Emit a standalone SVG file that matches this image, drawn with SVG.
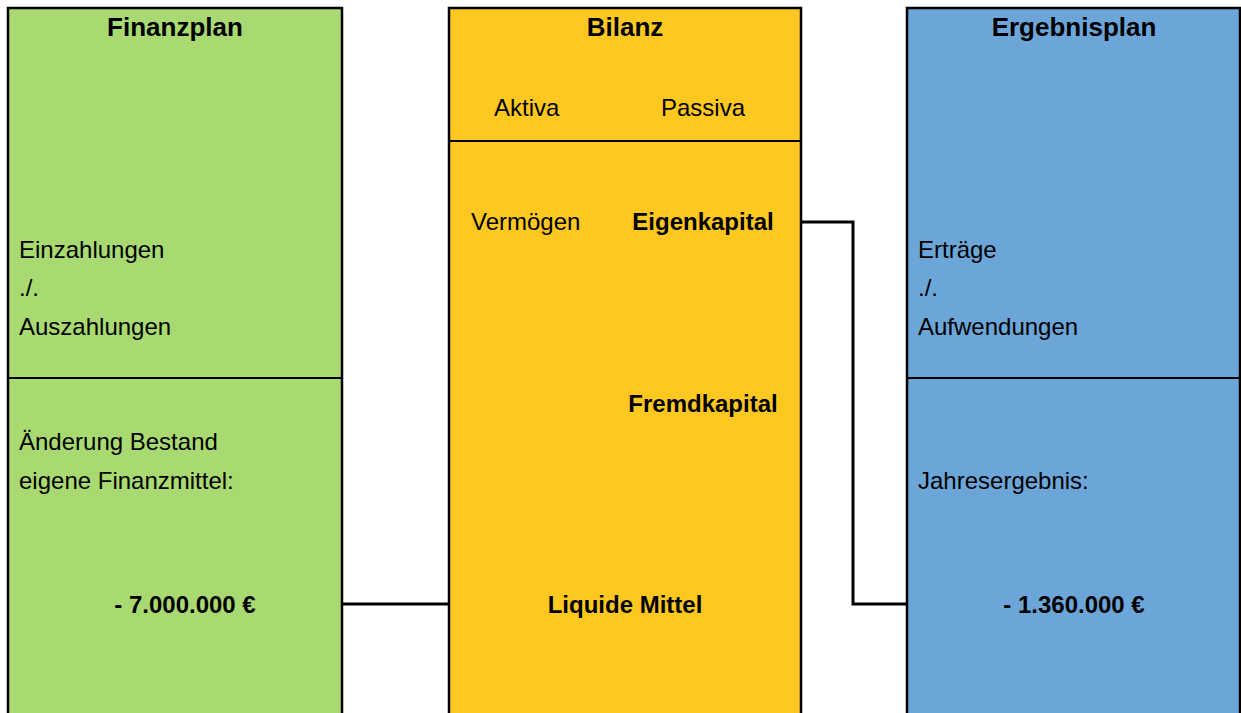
<svg xmlns="http://www.w3.org/2000/svg" width="1241" height="713" viewBox="0 0 1241 713">
<style>
.box{stroke:#000;stroke-width:2.5}
.div{stroke:#000;stroke-width:2}
.t{font-family:"Liberation Sans",Arial,sans-serif;font-size:24px;fill:#000}
.b{font-weight:bold}
.h{font-family:"Liberation Sans",Arial,sans-serif;font-size:26px;font-weight:bold;fill:#000;text-anchor:middle}
.m{text-anchor:middle}
.c{fill:none;stroke:#000;stroke-width:3}
</style>
<rect width="1241" height="713" fill="#fff"/>
<g id="finanzplan">
<rect class="box" x="8" y="8" width="334" height="720" fill="#A9DA72"/>
<line class="div" x1="8" y1="378" x2="342" y2="378"/>
<text class="h" x="175" y="36">Finanzplan</text>
<text class="t" x="19" y="258">Einzahlungen</text>
<text class="t" x="19" y="296">./.</text>
<text class="t" x="19" y="335">Auszahlungen</text>
<text class="t" x="19" y="450">Änderung Bestand</text>
<text class="t" x="19" y="489">eigene Finanzmittel:</text>
<text class="t b m" x="185" y="613">- 7.000.000 €</text>
</g>
<g id="bilanz">
<rect class="box" x="449" y="8" width="352" height="720" fill="#FFC820"/>
<line class="div" x1="449" y1="141" x2="801" y2="141"/>
<text class="h" x="625" y="36">Bilanz</text>
<text class="t" x="494" y="116">Aktiva</text>
<text class="t" x="661" y="116">Passiva</text>
<text class="t" x="471" y="230">Vermögen</text>
<text class="t b m" x="703" y="230">Eigenkapital</text>
<text class="t b m" x="703" y="412">Fremdkapital</text>
<text class="t b m" x="625" y="613">Liquide Mittel</text>
</g>
<g id="ergebnisplan">
<rect class="box" x="907" y="8" width="333" height="720" fill="#6CA6D9"/>
<line class="div" x1="907" y1="378" x2="1240" y2="378"/>
<text class="h" x="1074" y="36">Ergebnisplan</text>
<text class="t" x="918" y="258">Erträge</text>
<text class="t" x="918" y="296">./.</text>
<text class="t" x="918" y="335">Aufwendungen</text>
<text class="t" x="918" y="489">Jahresergebnis:</text>
<text class="t b m" x="1074" y="613">- 1.360.000 €</text>
</g>
<g id="connectors">
<line class="c" x1="342" y1="604" x2="449" y2="604"/>
<polyline class="c" points="801,222 853,222 853,604 907,604"/>
</g>
</svg>
